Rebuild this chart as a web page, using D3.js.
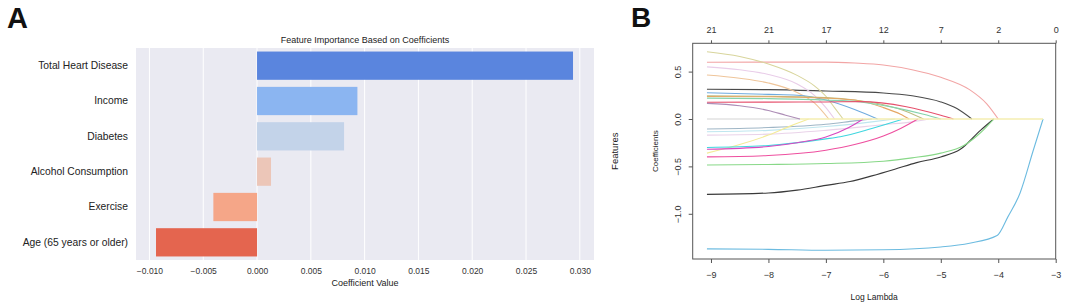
<!DOCTYPE html>
<html>
<head>
<meta charset="utf-8">
<script src="https://cdn.jsdelivr.net/npm/d3@7"></script>
<style>
  html, body { margin: 0; padding: 0; background: #ffffff; }
  svg { display: block; font-family: "Liberation Sans", Arial, sans-serif; }
</style>
</head>
<body>
<svg id="chart" width="1065" height="304"></svg>
<script>
// ---------------- Panel A data ----------------
const features = ["Total Heart Disease", "Income", "Diabetes", "Alcohol Consumption", "Exercise", "Age (65 years or older)"];
const coefficients = [0.02937, 0.00933, 0.00809, 0.00130, -0.00406, -0.00939];
const barTicks = [-0.010, -0.005, 0.000, 0.005, 0.010, 0.015, 0.020, 0.025, 0.030];

// ---------------- Panel B data ----------------
const lambdaTicks = [-9, -8, -7, -6, -5, -4, -3];
const nonzeroCounts = [21, 21, 17, 12, 7, 2, 0];
const coefTicks = [0.5, 0.0, -0.5, -1.0];
// each path: [logLambda, coefficient] pairs
const pathValues = [
  [[-9.07,-1.37],[-8,-1.375],[-7,-1.385],[-6,-1.38],[-5,-1.35],[-4.5,-1.31],[-4.02,-1.23],[-3.83,-1.03],[-3.62,-0.78],[-3.39,-0.33],[-3.22,0]],
  [[-9.07,-0.795],[-8,-0.78],[-7.5,-0.75],[-7,-0.70],[-6.58,-0.66],[-6.2,-0.60],[-5.8,-0.53],[-5.42,-0.46],[-5,-0.40],[-4.66,-0.32],[-4.31,-0.12],[-4.08,0]],
  [[-9.07,-0.485],[-8,-0.48],[-7,-0.47],[-6,-0.445],[-5.5,-0.41],[-5,-0.36],[-4.6,-0.28],[-4.3,-0.14],[-4.08,0]],
  [[-9.07,0.598],[-8,0.60],[-7,0.60],[-6.5,0.59],[-6,0.57],[-5.5,0.52],[-5,0.44],[-4.5,0.31],[-4.2,0.16],[-4.0,0]],
  [[-9.07,0.313],[-8,0.31],[-7,0.295],[-6,0.275],[-5.5,0.245],[-5,0.18],[-4.72,0.11],[-4.46,0]],
  [[-9.07,0.71],[-8.5,0.66],[-8,0.58],[-7.5,0.46],[-7.2,0.35],[-7,0.24],[-6.85,0.12],[-6.7,0]],
  [[-9.07,0.55],[-8.5,0.52],[-8,0.47],[-7.5,0.37],[-7.2,0.25],[-7,0.12],[-6.85,0]],
  [[-9.07,0.464],[-8.5,0.43],[-8,0.38],[-7.5,0.28],[-7.2,0.17],[-6.95,0]],
  [[-9.07,0.277],[-8,0.26],[-7.5,0.25],[-7,0.20],[-6.5,0.10],[-6.1,0]],
  [[-9.07,0.245],[-8,0.24],[-7,0.225],[-6.5,0.20],[-6,0.15],[-5.6,0.08],[-5.3,0]],
  [[-9.07,0.238],[-8,0.235],[-7,0.22],[-6.4,0.19],[-6,0.12],[-5.7,0.05],[-5.55,0]],
  [[-9.07,0.22],[-8,0.215],[-7,0.20],[-6.4,0.18],[-5.8,0.12],[-5.3,0.05],[-5.0,0]],
  [[-9.07,0.176],[-8,0.178],[-7,0.18],[-6.4,0.183],[-5.6,0.13],[-5.0,0.04],[-4.78,0]],
  [[-9.07,0.165],[-8.5,0.14],[-8,0.09],[-7.7,0.04],[-7.45,0]],
  [[-9.07,-0.105],[-8,-0.09],[-7,-0.055],[-6.5,-0.02],[-6.2,0]],
  [[-9.07,-0.134],[-8,-0.12],[-7,-0.08],[-6.2,-0.03],[-5.8,0]],
  [[-9.07,-0.17],[-8,-0.16],[-7,-0.12],[-6,-0.06],[-5.5,-0.03],[-5.2,0]],
  [[-9.07,-0.36],[-8.5,-0.27],[-8,-0.17],[-7.6,-0.07],[-7.3,0]],
  [[-9.07,-0.30],[-8,-0.28],[-7,-0.21],[-6.75,-0.187],[-6.2,-0.10],[-5.65,0]],
  [[-9.07,-0.32],[-8,-0.29],[-7.5,-0.25],[-7,-0.19],[-6.6,-0.09],[-6.35,0]],
  [[-9.07,-0.40],[-8,-0.385],[-7,-0.33],[-6.5,-0.27],[-6,-0.18],[-5.7,-0.10],[-5.4,0]]
];
const zeroStart = -9.07, zeroEnd = -3.22, zeroSwitch = -7.45;

// ---------------- Styles ----------------
const barColors = ["#5a85de", "#8bb5f1", "#c3d3e9", "#ecc6b8", "#f5a688", "#e4654f"];
const pathColors = ["#6cbbe0", "#3a3a3a", "#88d888", "#f2a5a5", "#4a4a4a", "#d8d59c", "#e9cde9", "#efc59a",
  "#6fabdf", "#bcbc80", "#e5a765", "#86d3ac", "#e6506c", "#ad8db6", "#9fb6c6", "#bfe6ef", "#e9d3e9",
  "#f3eb98", "#3fd6df", "#d848c0", "#ee4f9f"];

const svg = d3.select("#chart");
const fontA = "Liberation Sans, Arial, sans-serif";

// =============== Panel A ===============
const A = { left: 136, right: 594, top: 48, bottom: 260 };
const xA = d3.scaleLinear().domain([-0.01125, 0.03132]).range([A.left, A.right]);
const yA = d3.scaleBand().domain(features).range([A.top, A.bottom]).paddingInner(0.2).paddingOuter(0.1);

svg.append("text").attr("x", 7).attr("y", 28).attr("font-size", 29).attr("font-weight", "bold")
  .attr("fill", "#111").text("A");

svg.append("rect").attr("x", A.left).attr("y", A.top).attr("width", A.right - A.left)
  .attr("height", A.bottom - A.top).attr("fill", "#eaeaf2");

svg.append("g").selectAll("line").data(barTicks).join("line")
  .attr("x1", d => xA(d)).attr("x2", d => xA(d)).attr("y1", A.top).attr("y2", A.bottom)
  .attr("stroke", "#ffffff").attr("stroke-width", 1);

svg.append("g").selectAll("rect").data(features).join("rect")
  .attr("x", (d, i) => xA(Math.min(0, coefficients[i])))
  .attr("width", (d, i) => Math.abs(xA(coefficients[i]) - xA(0)))
  .attr("y", d => yA(d)).attr("height", yA.bandwidth())
  .attr("fill", (d, i) => barColors[i]);

const axA = d3.axisBottom(xA).tickValues(barTicks).tickSize(0).tickPadding(8);
const gAx = svg.append("g").attr("transform", `translate(0,${A.bottom})`).call(axA);
gAx.select(".domain").remove();
gAx.selectAll("text").attr("font-size", 8.5).attr("fill", "#333").attr("font-family", fontA)
  .text(d => d3.format(".3f")(d).replace("-", "\u2212"));

const ayA = d3.axisLeft(yA).tickSize(0).tickPadding(8);
const gAy = svg.append("g").attr("transform", `translate(${A.left},0)`).call(ayA);
gAy.select(".domain").remove();
gAy.selectAll("text").attr("font-size", 10.3).attr("fill", "#222").attr("font-family", fontA);

svg.append("text").attr("x", (A.left + A.right) / 2).attr("y", 43).attr("text-anchor", "middle")
  .attr("font-size", 9).attr("fill", "#222").text("Feature Importance Based on Coefficients");
svg.append("text").attr("x", (A.left + A.right) / 2).attr("y", 286).attr("text-anchor", "middle")
  .attr("font-size", 9).attr("fill", "#222").text("Coefficient Value");

// =============== Panel B ===============
const B = { left: 692.7, right: 1055.7, top: 43.3, bottom: 259 };
const xB = d3.scaleLinear().domain([-9.318, -3.0]).range([B.left, B.right]);
const yB = d3.scaleLinear().domain([-1.477, 0.7985]).range([B.bottom, B.top]);

svg.append("text").attr("x", 631).attr("y", 27).attr("font-size", 28).attr("font-weight", "bold")
  .attr("fill", "#111").text("B");

const line = d3.line().x(d => xB(d[0])).y(d => yB(d[1])).curve(d3.curveMonotoneX);
const gp = svg.append("g").attr("fill", "none").attr("stroke-width", 1.1);

gp.append("path").datum([[zeroStart, 0], [zeroSwitch, 0]]).attr("d", line).attr("stroke", "#d3d3d3");
gp.selectAll("path.coef").data(pathValues).join("path").attr("class", "coef")
  .attr("d", line).attr("stroke", (d, i) => pathColors[i]);
gp.append("path").datum([[zeroSwitch, 0], [zeroEnd, 0]]).attr("d", line).attr("stroke", "#f4eeb0").attr("stroke-width", 1.3);

svg.append("rect").attr("x", B.left).attr("y", B.top).attr("width", B.right - B.left)
  .attr("height", B.bottom - B.top).attr("fill", "none").attr("stroke", "#555").attr("stroke-width", 1);

const fontB = "Liberation Sans, Arial, sans-serif";
const bx = svg.append("g").attr("transform", `translate(0,${B.bottom})`)
  .call(d3.axisBottom(xB).tickValues(lambdaTicks).tickFormat(d => String(d).replace("-", "\u2212")).tickSize(4).tickPadding(9));
bx.select(".domain").remove();
bx.selectAll("line").attr("stroke", "#555");
bx.selectAll("text").attr("font-size", 9).attr("fill", "#333").attr("font-family", fontB);

const tx = svg.append("g").attr("transform", `translate(0,${B.top})`)
  .call(d3.axisTop(xB).tickValues(lambdaTicks).tickFormat((d, i) => nonzeroCounts[i]).tickSize(3).tickPadding(7));
tx.select(".domain").remove();
tx.selectAll("line").attr("stroke", "#555");
tx.selectAll("text").attr("font-size", 9).attr("fill", "#333").attr("font-family", fontB);

const ly = svg.append("g").attr("transform", `translate(${B.left},0)`)
  .call(d3.axisLeft(yB).tickValues(coefTicks).tickFormat(d => d3.format(".1f")(d).replace("-", "\u2212")).tickSize(4).tickPadding(6));
ly.select(".domain").remove();
ly.selectAll("line").attr("stroke", "#555");
ly.selectAll("text").attr("font-size", 9).attr("fill", "#333").attr("font-family", fontB)
  .attr("text-anchor", "middle").attr("x", 0).attr("y", 0)
  .attr("transform", "translate(-15,0) rotate(-90)").attr("dy", "0.35em");

svg.append("text").attr("x", (B.left + B.right) / 2).attr("y", 300).attr("text-anchor", "middle")
  .attr("font-size", 8.5).attr("fill", "#222").text("Log Lambda");
svg.append("text").attr("transform", `translate(658,${(B.top + B.bottom) / 2}) rotate(-90)`)
  .attr("text-anchor", "middle").attr("font-size", 8).attr("fill", "#222").text("Coefficients");
svg.append("text").attr("transform", `translate(618,${(B.top + B.bottom) / 2}) rotate(-90)`)
  .attr("text-anchor", "middle").attr("font-size", 9.5).attr("fill", "#222").text("Features");
</script>
</body>
</html>
